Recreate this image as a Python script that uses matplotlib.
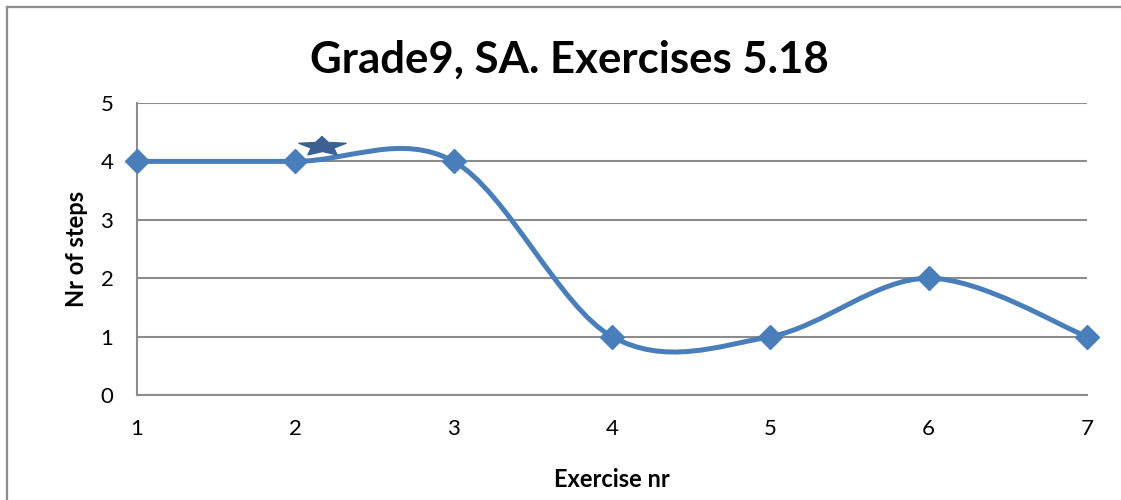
import numpy as np
import matplotlib
matplotlib.use("Agg")
import matplotlib.pyplot as plt
from matplotlib.path import Path
from matplotlib.patches import PathPatch
from matplotlib.lines import Line2D

plt.rcParams['font.family'] = ['Lato', 'DejaVu Sans']

# data
exercise = [1, 2, 3, 4, 5, 6, 7]
steps = [4, 4, 4, 1, 1, 2, 1]
star_xy = (2.17, 4.26)

title = "Grade9, SA. Exercises 5.18"
xlabel = "Exercise nr"
ylabel = "Nr of steps"

line_color = "#4A7EBB"
grid_color = "#8C8C8C"

fig = plt.figure(figsize=(11.21, 5.0), dpi=100)
ax = fig.add_axes([137 / 1121, 105 / 500, 950 / 1121, 292 / 500])

# smoothed line like Excel (cardinal spline as cubic bezier)
pts = np.column_stack([exercise, steps]).astype(float)
verts = [pts[0]]
codes = [Path.MOVETO]
n = len(pts)
for i in range(n - 1):
    p0 = pts[max(i - 1, 0)]
    p1 = pts[i]
    p2 = pts[i + 1]
    p3 = pts[min(i + 2, n - 1)]
    c1 = p1 + (p2 - p0) / 6
    c2 = p2 - (p3 - p1) / 6
    verts += [c1, c2, p2]
    codes += [Path.CURVE4] * 3
ax.add_patch(PathPatch(Path(verts, codes), facecolor="none", edgecolor=line_color,
                       lw=3.6, capstyle="round", zorder=3))
ax.plot(exercise, steps, ls="none", marker="D", ms=12, color=line_color,
        markeredgecolor=line_color, zorder=4, clip_on=False)

# flattened star annotation
t = np.linspace(0, 2 * np.pi, 11)[:-1] + np.pi / 2
r = np.where(np.arange(10) % 2 == 0, 1.0, 0.48)
star = np.column_stack([r * np.cos(t) * 2.4, r * np.sin(t)])
ax.plot(*star_xy, marker=star, ms=34, color="#3B6193", ls="none", zorder=5)

ax.set_xlim(1, 7)
ax.set_ylim(0, 5)
ax.set_xticks(exercise)
ax.set_yticks(range(6))
ax.tick_params(length=0, labelsize=16, pad=17)
ax.yaxis.grid(True, color=grid_color, lw=1.5)
ax.set_axisbelow(True)
for s in ["top", "right"]:
    ax.spines[s].set_visible(False)
for s in ["left", "bottom"]:
    ax.spines[s].set_color(grid_color)
    ax.spines[s].set_linewidth(1.5)

ax.set_xlabel(xlabel, fontsize=17, fontweight="bold")
ax.set_ylabel(ylabel, fontsize=17, fontweight="bold")
ax.xaxis.set_label_coords(0.5, -0.25)
ax.yaxis.set_label_coords(-0.052, 0.5)
fig.text(569 / 1121, 1 - 60 / 500, title, fontsize=31.5, fontweight="bold",
         ha="center", va="center")

# chart border (only left and top visible)
bx, by = 7 / 1121, 1 - 7 / 500
fig.add_artist(Line2D([bx, bx], [0, by], color=grid_color, lw=1.6))
fig.add_artist(Line2D([bx, 1], [by, by], color=grid_color, lw=1.6))

fig.savefig("out.png", dpi=100)
